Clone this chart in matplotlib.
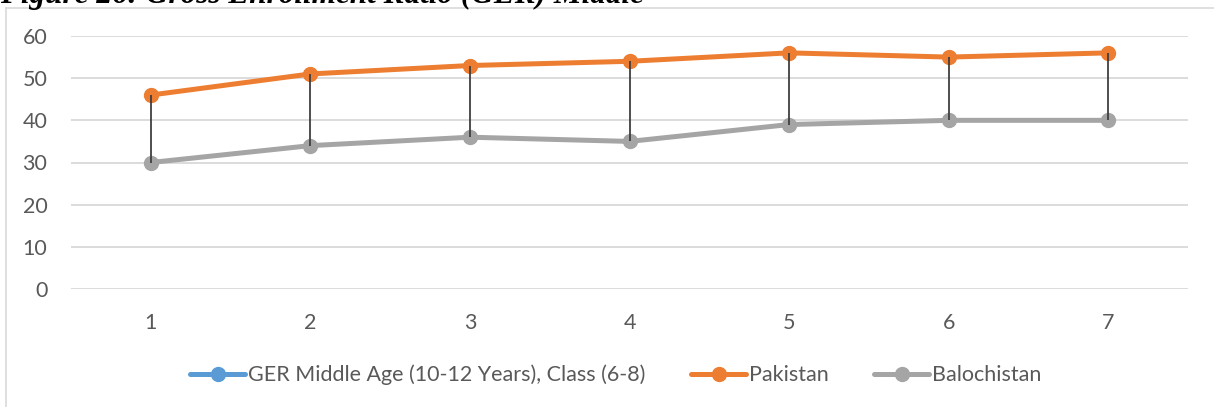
import numpy as np
import matplotlib.pyplot as plt
from matplotlib.lines import Line2D

# GER, middle level (class 6-8)
years = [1, 2, 3, 4, 5, 6, 7]
ger_middle = [None] * 7          # no values entered for this series
pakistan = [46, 51, 53, 54, 56, 55, 56]
balochistan = [30, 34, 36, 35, 39, 40, 40]
yticks = [0, 10, 20, 30, 40, 50, 60]

blue = '#5B9BD5'
orange = '#ED7D31'
grey = '#A5A5A5'
text_col = '#595959'

plt.rcParams['font.family'] = ['Lato', 'DejaVu Sans']

W, H = 1214, 407
fig = plt.figure(figsize=(W / 100, H / 100), dpi=100)

# chart frame (only top and left edges fall inside the page)
fig.add_artist(Line2D([6 / W, 1], [1 - 7.5 / H, 1 - 7.5 / H], color='#D9D9D9', lw=1.2))
fig.add_artist(Line2D([6 / W, 6 / W], [0, 1 - 7.5 / H], color='#D9D9D9', lw=1.2))

# caption sitting above the chart, mostly off the page
fig.text(0, 1 - 3.5 / H, 'Figure 26: Gross Enrollment Ratio (GER) Middle',
         family='Liberation Serif', fontweight='bold', fontstyle='italic',
         fontsize=22.5, va='baseline', ha='left')

ax = fig.add_axes([71 / W, (H - 289) / H, (1188 - 71) / W, (289 - 36) / H])
x = np.arange(len(years))

ger_vals = np.array([np.nan if v is None else v for v in ger_middle], dtype=float)
l0, = ax.plot(x, ger_vals, color=blue, lw=3.6, marker='o', ms=10,
              solid_capstyle='round', clip_on=False, zorder=3)
l1, = ax.plot(x, pakistan, color=orange, lw=3.6, marker='o', ms=10,
              solid_capstyle='round', clip_on=False, zorder=3)
l2, = ax.plot(x, balochistan, color=grey, lw=3.6, marker='o', ms=10,
              solid_capstyle='round', clip_on=False, zorder=3)

# high-low lines between the two series
ax.vlines(x, balochistan, pakistan, color='#404040', lw=1.3, zorder=4)

ax.set_xlim(-0.5, len(years) - 0.5)
ax.set_ylim(0, 60)
ax.set_yticks(yticks)
ax.set_xticks(x)
ax.set_xticklabels([str(y) for y in years])
ax.grid(axis='y', color='#D9D9D9', lw=1.3)
ax.set_axisbelow(True)
for s in ax.spines.values():
    s.set_visible(False)
ax.tick_params(length=0, labelsize=15.5, colors=text_col)
ax.tick_params(axis='x', pad=17)
ax.tick_params(axis='y', pad=17)

fig.legend([l0, l1, l2],
           ['GER Middle Age (10-12 Years), Class (6-8)', 'Pakistan', 'Balochistan'],
           loc='center', bbox_to_anchor=(616 / W, 1 - 375 / H), ncol=3,
           frameon=False, fontsize=15.5, labelcolor=text_col,
           handlelength=2.55, handletextpad=0.15, columnspacing=2.1)

fig.savefig('out.png', dpi=100)
